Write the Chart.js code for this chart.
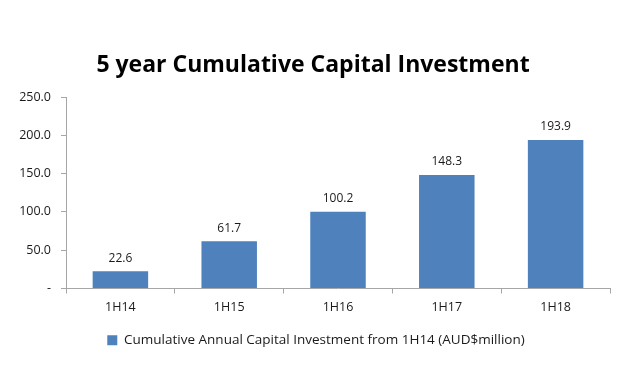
<!DOCTYPE html>
<html>
<head>
<meta charset="utf-8">
<script src="https://cdn.jsdelivr.net/npm/chart.js@4"></script>
<style>
  html, body { margin: 0; padding: 0; background: #fff; }
  #wrap { width: 620px; height: 365px; position: relative; }
</style>
</head>
<body>
<div id="wrap"><canvas id="capexChart"></canvas></div>
<script>
// data
const periods = ['1H14', '1H15', '1H16', '1H17', '1H18'];
const cumulativeCapex = [22.6, 61.7, 100.2, 148.3, 193.9];
const seriesLabel = 'Cumulative Annual Capital Investment from 1H14 (AUD$million)';
const chartTitle = '5 year Cumulative Capital Investment';

const FONT = "'Open Sans', 'Liberation Sans', sans-serif";

/** value labels above each bar + title (drawn by hand to match its centre) */
const barValues = {
  id: 'barValues',
  beforeDraw(chart) {
    // legend in the reference sits a little right of the canvas centre
    if (chart.legend) chart.legend.left = 22;
  },
  afterDatasetsDraw(chart) {
    const ctx = chart.ctx;
    const meta = chart.getDatasetMeta(0);
    ctx.save();
    ctx.font = '12px ' + FONT;
    ctx.fillStyle = '#1a1a1a';
    ctx.textAlign = 'center';
    ctx.textBaseline = 'middle';
    meta.data.forEach((bar, i) => {
      ctx.fillText(cumulativeCapex[i].toFixed(1), bar.x, bar.y - 13);
    });

    ctx.font = 'bold 23px ' + FONT;
    ctx.fillStyle = '#000';
    ctx.fillText(chartTitle, 313, 65);
    ctx.restore();
  }
};

new Chart(document.getElementById('capexChart'), {
  type: 'bar',
  data: {
    labels: periods,
    datasets: [{
      label: seriesLabel,
      data: cumulativeCapex,
      backgroundColor: '#4F81BD',
      categoryPercentage: 1,
      barPercentage: 0.51
    }]
  },
  options: {
    responsive: true,
    maintainAspectRatio: false,
    animation: false,
    layout: { padding: { left: 0, right: 10, top: 97, bottom: 8 } },
    plugins: {
      title: { display: false },
      legend: {
        position: 'bottom',
        labels: {
          color: '#1a1a1a',
          font: { family: FONT, size: 13.5 },
          boxWidth: 10,
          boxHeight: 10,
          padding: 13
        }
      },
      tooltip: { enabled: false }
    },
    scales: {
      x: {
        grid: { drawOnChartArea: false, drawTicks: true, tickLength: 5, color: '#a6a6a6' },
        border: { color: '#a6a6a6' },
        ticks: { color: '#1a1a1a', font: { family: FONT, size: 12.5 }, padding: 6 }
      },
      y: {
        min: 0,
        max: 250,
        afterFit: s => { s.width = 66; },
        grid: { drawOnChartArea: false, drawTicks: true, tickLength: 5, color: '#a6a6a6' },
        border: { color: '#a6a6a6' },
        ticks: {
          stepSize: 50,
          color: '#1a1a1a',
          font: { family: FONT, size: 12.5 },
          padding: 10,
          callback: v => v === 0 ? '-' : v.toFixed(1)
        }
      }
    }
  },
  plugins: [barValues]
});
</script>
</body>
</html>
